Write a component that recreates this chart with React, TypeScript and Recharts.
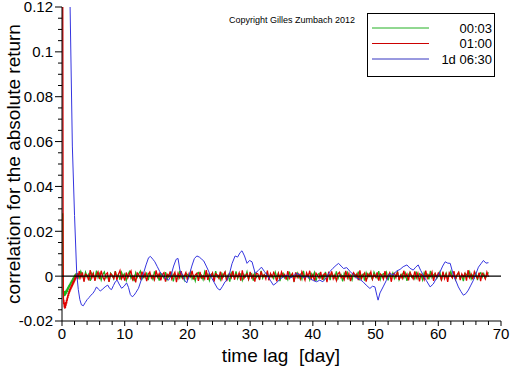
import React from 'react';
import { LineChart, Line, XAxis, YAxis, ReferenceLine } from 'recharts';

// ---------- data ----------
const greenEarlyLag = [0.12, 0.16, 0.2, 0.25, 0.3, 0.35, 0.4, 0.45, 0.5, 0.55, 0.6, 0.65, 0.7, 0.75, 0.8, 0.85, 0.9, 0.95, 1.0, 1.05, 1.1, 1.15, 1.2, 1.25, 1.3, 1.35, 1.4, 1.45, 1.5, 1.55, 1.6, 1.65, 1.7, 1.75, 1.8, 1.85, 1.9, 1.95, 2.0, 2.05, 2.1, 2.15, 2.2, 2.25, 2.3, 2.35, 2.4, 2.45];
const greenEarlyVal = [0.028, 0.012, -0.0068, -0.0085, -0.0065, -0.009, -0.007, -0.0088, -0.0066, -0.0085, -0.0064, -0.008, -0.006, -0.0076, -0.0055, -0.007, -0.005, -0.0064, -0.0045, -0.0058, -0.004, -0.0052, -0.0035, -0.0047, -0.003, -0.0042, -0.0025, -0.0037, -0.002, -0.0032, -0.0015, -0.0027, -0.001, -0.0022, -0.0005, -0.0017, 0.0, -0.0012, 0.0005, -0.0008, 0.0009, -0.0004, 0.0012, -0.0002, 0.0014, 0.0, 0.0015, 0.0002];

const redEarlyLag = [0.12, 0.18, 0.22, 0.26, 0.3, 0.35, 0.4, 0.45, 0.5, 0.55, 0.6, 0.65, 0.7, 0.75, 0.8, 0.85, 0.9, 0.95, 1.0, 1.05, 1.1, 1.15, 1.2, 1.25, 1.3, 1.35, 1.4, 1.45, 1.5, 1.55, 1.6, 1.65, 1.7, 1.75, 1.8, 1.85, 1.9, 1.95, 2.0, 2.05, 2.1, 2.15, 2.2, 2.25, 2.3, 2.35, 2.4, 2.45];
const redEarlyVal = [0.13, 0.01, -0.009, -0.0125, -0.0105, -0.014, -0.012, -0.0145, -0.0118, -0.0142, -0.0115, -0.0132, -0.0105, -0.0122, -0.0095, -0.011, -0.0085, -0.0098, -0.0075, -0.0088, -0.0066, -0.0078, -0.0058, -0.0072, -0.0052, -0.0064, -0.0046, -0.0058, -0.004, -0.0052, -0.0034, -0.0046, -0.0028, -0.004, -0.0022, -0.0034, -0.0016, -0.0028, -0.001, -0.0022, -0.0004, -0.0016, 0.0004, -0.001, 0.001, -0.0006, 0.0012, -0.0002];

// noisy part of the short-lag series: lags start at 2.5 days, one value every 0.25 day
const NOISE_START = 2.5;
const NOISE_STEP = 0.25;
const greenNoise = [
  0.0012, -0.0008, 0.0021, 0.0004, -0.0015, 0.0018, -0.0003, 0.0009, -0.0021, 0.0014,
  0.0002, -0.0011, 0.0025, -0.0006, 0.0011, -0.0017, 0.0007, 0.0019, -0.0009, 0.0003,
  -0.0024, 0.0013, 0.0005, -0.0012, 0.0022, -0.0004, 0.0008, -0.0016, 0.0017, -0.0001,
  0.0010, -0.0019, 0.0006, 0.0020, -0.0010, 0.0001, -0.0022, 0.0015, -0.0005, 0.0011,
  0.0023, -0.0013, 0.0004, -0.0007, 0.0016, -0.0018, 0.0009, 0.0002, -0.0014, 0.0021,
  -0.0002, 0.0007, -0.0020, 0.0012, 0.0003, -0.0009, 0.0018, -0.0015, 0.0006, -0.0003,
  0.0014, -0.0023, 0.0010, 0.0001, -0.0011, 0.0024, -0.0006, 0.0005, -0.0017, 0.0013,
  0.0008, -0.0004, 0.0019, -0.0012, 0.0002, -0.0021, 0.0011, 0.0016, -0.0008, 0.0004,
  -0.0015, 0.0020, -0.0001, 0.0009, -0.0019, 0.0007, 0.0013, -0.0010, 0.0022, -0.0005,
  0.0003, -0.0016, 0.0012, -0.0002, 0.0017, -0.0013, 0.0006, -0.0024, 0.0015, 0.0001,
  -0.0007, 0.0021, -0.0011, 0.0004, 0.0010, -0.0018, 0.0008, -0.0003, 0.0019, -0.0014,
  0.0005, 0.0011, -0.0020, 0.0014, -0.0006, 0.0002, -0.0012, 0.0023, -0.0009, 0.0007,
  -0.0002, 0.0016, -0.0017, 0.0009, 0.0003, -0.0010, 0.0018, -0.0004, 0.0012, -0.0022,
  0.0006, 0.0013, -0.0008, 0.0001, -0.0015, 0.0020, -0.0003, 0.0010, -0.0019, 0.0004,
  0.0015, -0.0006, 0.0008, -0.0013, 0.0024, -0.0011, 0.0002, 0.0009, -0.0016, 0.0011,
  -0.0001, 0.0017, -0.0021, 0.0006, 0.0012, -0.0007, 0.0003, -0.0014, 0.0019, -0.0004,
  0.0010, -0.0018, 0.0014, 0.0002, -0.0009, 0.0021, -0.0012, 0.0005, 0.0008, -0.0023,
  0.0013, -0.0002, 0.0016, -0.0010, 0.0004, -0.0017, 0.0011, 0.0007, -0.0005, 0.0020,
  -0.0013, 0.0003, 0.0009, -0.0020, 0.0015, -0.0006, 0.0012, -0.0001, -0.0014, 0.0018,
  0.0002, -0.0009, 0.0022, -0.0015, 0.0006, 0.0011, -0.0004, 0.0016, -0.0019, 0.0008,
  -0.0003, 0.0014, -0.0011, 0.0005, 0.0019, -0.0016, 0.0001, 0.0010, -0.0008, 0.0013,
  -0.0021, 0.0007, 0.0017, -0.0005, 0.0003, -0.0012, 0.0020, -0.0009, 0.0011, 0.0004,
  -0.0017, 0.0015, -0.0002, 0.0008, -0.0014, 0.0023, -0.0007, 0.0006, 0.0012, -0.0010,
  0.0001, 0.0018, -0.0019, 0.0009, -0.0004, 0.0014, -0.0011, 0.0003, 0.0021, -0.0006,
  0.0010, -0.0015, 0.0005, 0.0016, -0.0008, 0.0002, -0.0022, 0.0012, 0.0007, -0.0003,
  0.0019, -0.0012, 0.0004, -0.0007, 0.0013, -0.0018, 0.0009, 0.0015, -0.0005, 0.0011,
  -0.0010, 0.0006, 0.0017,
];
const redNoise = [
  -0.0014, 0.0022, -0.0006, 0.0017, -0.0025, 0.0009, 0.0003, -0.0019, 0.0027, -0.0008,
  0.0012, -0.0021, 0.0005, 0.0019, -0.0013, 0.0024, -0.0003, -0.0017, 0.0008, 0.0015,
  -0.0026, 0.0011, 0.0002, -0.0010, 0.0021, -0.0018, 0.0007, 0.0025, -0.0012, 0.0004,
  -0.0020, 0.0016, -0.0007, 0.0010, 0.0023, -0.0015, 0.0001, -0.0028, 0.0014, 0.0006,
  -0.0011, 0.0020, -0.0004, 0.0013, -0.0022, 0.0008, 0.0018, -0.0009, 0.0003, -0.0016,
  0.0026, -0.0005, 0.0011, -0.0019, 0.0007, 0.0015, -0.0024, 0.0009, -0.0002, 0.0021,
  -0.0013, 0.0004, 0.0017, -0.0027, 0.0012, -0.0006, 0.0022, -0.0010, 0.0001, 0.0016,
  -0.0018, 0.0010, -0.0003, 0.0024, -0.0015, 0.0006, 0.0013, -0.0021, 0.0019, -0.0008,
  0.0002, -0.0012, 0.0027, -0.0017, 0.0009, -0.0001, 0.0014, -0.0025, 0.0011, 0.0005,
  -0.0009, 0.0020, -0.0014, 0.0007, 0.0018, -0.0022, 0.0003, 0.0012, -0.0006, 0.0023,
  -0.0016, 0.0008, -0.0004, 0.0015, -0.0020, 0.0026, -0.0011, 0.0002, 0.0010, -0.0013,
  0.0019, -0.0007, 0.0005, -0.0024, 0.0014, 0.0009, -0.0017, 0.0021, -0.0002, 0.0006,
  -0.0012, 0.0025, -0.0019, 0.0011, -0.0005, 0.0016, 0.0001, -0.0023, 0.0013, -0.0008,
  0.0018, -0.0003, 0.0007, -0.0015, 0.0022, -0.0010, 0.0004, 0.0012, -0.0026, 0.0017,
  -0.0006, 0.0009, -0.0013, 0.0020, 0.0002, -0.0018, 0.0015, -0.0004, 0.0024, -0.0011,
  0.0006, -0.0021, 0.0013, 0.0003, -0.0009, 0.0019, -0.0016, 0.0008, 0.0011, -0.0027,
  0.0014, -0.0002, 0.0021, -0.0012, 0.0005, -0.0019, 0.0010, 0.0017, -0.0007, 0.0001,
  -0.0015, 0.0023, -0.0008, 0.0012, -0.0022, 0.0006, 0.0016, -0.0004, 0.0009, -0.0018,
  0.0026, -0.0011, 0.0003, 0.0014, -0.0024, 0.0010, -0.0001, 0.0019, -0.0013, 0.0007,
  -0.0005, 0.0017, -0.0020, 0.0011, 0.0004, -0.0014, 0.0022, -0.0009, 0.0002, 0.0015,
  -0.0025, 0.0008, 0.0013, -0.0006, 0.0020, -0.0017, 0.0005, -0.0010, 0.0024, -0.0003,
  0.0010, -0.0019, 0.0016, 0.0001, -0.0012, 0.0021, -0.0007, 0.0013, -0.0023, 0.0009,
  0.0004, -0.0015, 0.0025, -0.0009, 0.0006, -0.0002, 0.0018, -0.0021, 0.0011, -0.0005,
  0.0014, 0.0003, -0.0016, 0.0020, -0.0011, 0.0008, -0.0026, 0.0015, 0.0002, -0.0008,
  0.0022, -0.0013, 0.0006, 0.0017, -0.0018, 0.0010, -0.0004, 0.0012, -0.0020, 0.0027,
  -0.0007, 0.0009, -0.0014, 0.0019, 0.0001, -0.0010, 0.0016, -0.0022, 0.0013, 0.0005,
  -0.0012, 0.0018, -0.0003,
];

const blueLag = [
  1.27, 1.65, 2.0, 2.35, 2.6, 2.85, 3.1, 3.4, 3.7, 4.0, 4.3, 4.6, 4.9, 5.2, 5.5, 5.8, 6.1, 6.4, 6.7, 7.0,
  7.3, 7.6, 7.9, 8.2, 8.5, 8.8, 9.1, 9.5, 9.9, 10.3, 10.6, 10.9, 11.2, 11.5, 11.8, 12.2, 12.6, 13.0, 13.4, 13.8,
  14.1, 14.5, 14.8, 15.2, 15.6, 16.0, 16.5, 17.0, 17.4, 17.8, 18.2, 18.5, 18.8, 19.2, 19.6, 19.9, 20.3, 20.7, 21.1, 21.5,
  21.9, 22.3, 22.6, 23.0, 23.3, 23.8, 24.3, 24.8, 25.2, 25.6, 26.0, 26.3, 26.7, 27.1, 27.6, 28.0, 28.4, 28.7, 29.1, 29.5,
  29.9, 30.3, 30.8, 31.3, 31.8, 32.3, 32.8, 33.2, 33.7, 34.2, 34.8, 35.3, 35.9, 36.5, 37.0, 37.4, 38.0, 38.5, 39.0, 39.6,
  40.1, 40.6, 41.1, 41.6, 42.2, 42.7, 43.2, 43.7, 44.1, 44.5, 44.9, 45.4, 45.9, 46.5, 47.0, 47.5, 48.0, 48.5, 49.1, 49.5,
  49.9, 50.2, 50.4, 50.7, 51.2, 51.7, 52.3, 52.8, 53.3, 53.9, 54.4, 55.0, 55.5, 56.0, 56.4, 56.8, 57.2, 57.6, 58.1, 58.7,
  59.2, 59.8, 60.3, 60.7, 61.1, 61.5, 61.9, 62.4, 62.8, 63.2, 63.6, 64.0, 64.4, 64.8, 65.2, 65.6, 66.0, 66.4, 66.8, 67.2,
  67.6, 68.0,
];
const blueVal = [
  0.124, 0.058, 0.027, 0.001, -0.006, -0.0105, -0.0128, -0.0132, -0.0118, -0.0105, -0.0096, -0.0085, -0.0078, -0.0065, -0.0048, -0.0058, -0.0066, -0.006, -0.0052, -0.0045,
  -0.004, -0.0055, -0.006, -0.0042, -0.0025, -0.0018, -0.0035, -0.0054, -0.0045, -0.003, -0.005, -0.0082, -0.0092, -0.0085, -0.0072, -0.0054, -0.002, 0.0013, 0.005, 0.0082,
  0.0088, 0.0075, 0.0064, 0.0042, 0.002, 0.0005, -0.001, -0.0018, 0.0005, 0.0045, 0.0075, 0.0079, 0.0027, 0.0005, -0.002, -0.003, 0.0005, 0.0045, 0.0078, 0.009,
  0.0085, 0.0075, 0.0068, 0.0045, 0.0027, -0.0005, -0.003, -0.0055, -0.0062, -0.0045, -0.0025, -0.0018, 0.001, 0.0055, 0.009, 0.0085, 0.0105, 0.0113, 0.009, 0.0057,
  0.007, 0.0064, 0.0013, 0.0025, 0.004, 0.002, 0.0, -0.0018, -0.004, -0.003, -0.0012, -0.0003, 0.0005, -0.0008, 0.0004, 0.0012, 0.0005, -0.0006, 0.0, -0.0012,
  -0.002, -0.0025, -0.0018, -0.0025, -0.0005, 0.002, 0.0035, 0.0048, 0.0057, 0.0045, 0.0034, 0.0038, 0.0022, 0.0005, -0.0008, -0.0015, -0.0025, -0.004, -0.0055, -0.0045,
  -0.0048, -0.0085, -0.0107, -0.0075, -0.0048, -0.002, 0.0012, 0.0005, 0.0022, 0.003, 0.0042, 0.005, 0.0035, 0.0027, 0.004, 0.005, 0.0025, 0.0005, -0.002, -0.0048,
  -0.0035, -0.0005, 0.002, 0.0045, 0.0064, 0.0058, 0.0057, 0.0005, -0.002, -0.0048, -0.0068, -0.0085, -0.0078, -0.0062, -0.004, -0.0018, 0.001, 0.004, 0.0055, 0.007,
  0.0058, 0.006,
];

const seriesNames = ['00:03', '01:00', '1d 06:30'];
const seriesColors = ['#1db31d', '#e00000', '#3535e0'];
const legendColors = ['#22b022', '#cc0000', '#3535c0'];

const xMajorTicks = [0, 10, 20, 30, 40, 50, 60, 70];
const xAllTicks = [0, 2, 4, 6, 8, 10, 12, 14, 16, 18, 20, 22, 24, 26, 28, 30, 32, 34, 36, 38, 40, 42, 44, 46, 48, 50, 52, 54, 56, 58, 60, 62, 64, 66, 68, 70];
const yMajorTicks = [-0.02, 0, 0.02, 0.04, 0.06, 0.08, 0.1, 0.12];
const yTickLabels = ['-0.02', '0', '0.02', '0.04', '0.06', '0.08', '0.1', '0.12'];
const yAllTicks = [-0.02, -0.015, -0.01, -0.005, 0, 0.005, 0.01, 0.015, 0.02, 0.025, 0.03, 0.035, 0.04, 0.045, 0.05, 0.055, 0.06, 0.065, 0.07, 0.075, 0.08, 0.085, 0.09, 0.095, 0.1, 0.105, 0.11, 0.115, 0.12];

// ---------- build point lists ----------
const withNoise = (lags: number[], vals: number[], noise: number[]) => [
  ...lags.map((x, i) => ({ x, v: vals[i] })),
  ...noise.map((v, i) => ({ x: NOISE_START + i * NOISE_STEP, v })),
];
const greenData = withNoise(greenEarlyLag, greenEarlyVal, greenNoise);
const redData = withNoise(redEarlyLag, redEarlyVal, redNoise);
const blueData = blueLag.map((x, i) => ({ x, v: blueVal[i] }));

const FONT = '"Liberation Sans", Arial, sans-serif';

const near = (a: number, b: number) => Math.abs(a - b) < 1e-9;

const XTick = (props: any) => {
  const { x, y, payload } = props;
  const major = xMajorTicks.some((t) => near(t, payload.value));
  return (
    <g>
      <line x1={x} x2={x} y1={y} y2={y + (major ? 5 : 4)} stroke="#000" />
      {major && (
        <text x={x} y={y + 5} dy="0.85em" textAnchor="middle" fontSize={15} fontFamily={FONT} fill="#000">
          {String(payload.value)}
        </text>
      )}
    </g>
  );
};

const YTick = (props: any) => {
  const { x, y, payload } = props;
  const idx = yMajorTicks.findIndex((t) => near(t, payload.value));
  const major = idx >= 0;
  return (
    <g>
      <line x1={x - (major ? 7 : 4)} x2={x} y1={y} y2={y} stroke="#000" />
      {major && (
        <text x={x - 9} y={y} dy="0.36em" textAnchor="end" fontSize={15} fontFamily={FONT} fill="#000">
          {yTickLabels[idx]}
        </text>
      )}
    </g>
  );
};

export default function App() {
  return (
    <div style={{ position: 'absolute', left: 0, top: 0, width: 512, height: 366, background: '#fff' }}>
      <LineChart width={512} height={366} margin={{ top: 7, right: 11, bottom: 0, left: 0 }}>
        <XAxis
          type="number"
          dataKey="x"
          domain={[0, 70]}
          ticks={xAllTicks}
          interval={0}
          tickSize={0}
          tickMargin={0}
          tick={<XTick />}
          height={45}
          axisLine={{ stroke: '#000' }}
          allowDataOverflow
        />
        <YAxis
          type="number"
          domain={[-0.02, 0.12]}
          ticks={yAllTicks}
          interval={0}
          tickSize={0}
          tickMargin={0}
          tick={<YTick />}
          width={62}
          axisLine={{ stroke: '#000' }}
          allowDataOverflow
        />
        <Line data={greenData} dataKey="v" stroke={seriesColors[0]} strokeWidth={1.3} dot={false} isAnimationActive={false} type="linear" />
        <Line data={redData} dataKey="v" stroke={seriesColors[1]} strokeWidth={1.3} dot={false} isAnimationActive={false} type="linear" />
        <Line data={blueData} dataKey="v" stroke={seriesColors[2]} strokeWidth={1} dot={false} isAnimationActive={false} type="linear" />
        <ReferenceLine y={0} stroke="#000" strokeWidth={1.3} />
      </LineChart>
      <svg width={512} height={366} style={{ position: 'absolute', left: 0, top: 0, pointerEvents: 'none' }}>
        <text x={292} y={20} dy="0.35em" textAnchor="middle" fontSize={9} fontFamily={FONT} fill="#000">
          Copyright Gilles Zumbach 2012
        </text>
        <text x={281} y={355} dy="0.35em" textAnchor="middle" fontSize={19} fontFamily={FONT} fill="#000" style={{ whiteSpace: 'pre' }}>
          {'time lag  [day]'}
        </text>
        <text x={13} y={164} dy="0.35em" textAnchor="middle" fontSize={19} fontFamily={FONT} fill="#000" transform="rotate(-90 13 164)">
          correlation for the absolute return
        </text>
        <rect x={367.5} y={13.5} width={127} height={63} fill="#fff" stroke="#000" />
        {seriesNames.map((name, i) => {
          const cy = [28, 43.5, 59][i];
          return (
            <g key={name}>
              <line x1={372} x2={429} y1={cy} y2={cy} stroke={legendColors[i]} />
              <text x={492} y={cy} dy="0.36em" textAnchor="end" fontSize={13} fontFamily={FONT} fill="#000">
                {name}
              </text>
            </g>
          );
        })}
      </svg>
    </div>
  );
}
